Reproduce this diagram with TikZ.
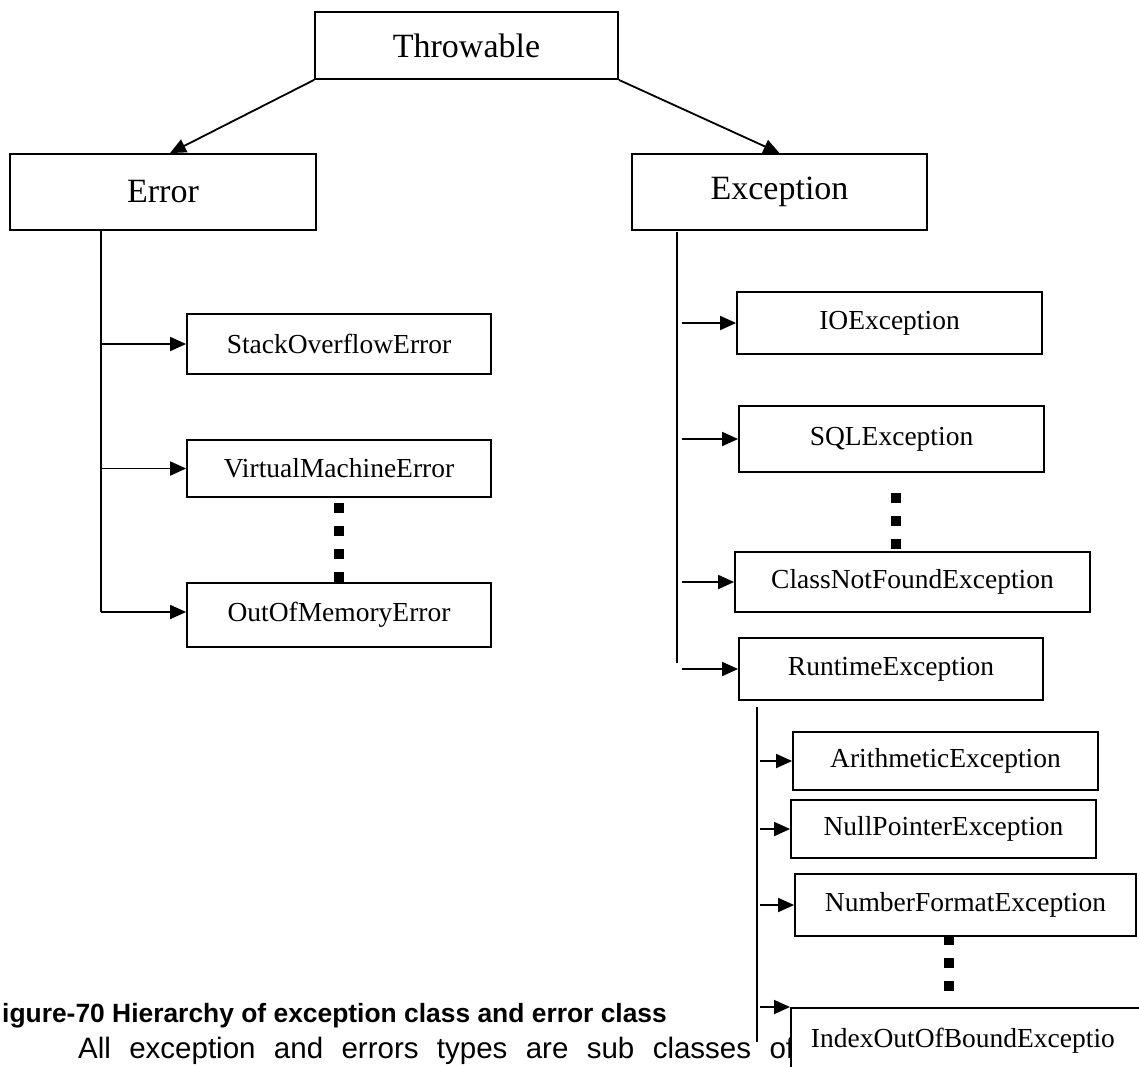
\documentclass[tikz,border=0pt]{standalone}
\usepackage{fontspec}
\setmainfont{Liberation Serif}
\newfontfamily\capfont{Liberation Sans}
\usetikzlibrary{arrows.meta}

\tikzset{
  bigbox/.style={draw, line width=1.8pt, inner sep=0pt, fill=white, font=\fontsize{34}{40}\selectfont},
  subbox/.style={draw, line width=1.8pt, inner sep=0pt, fill=white, font=\fontsize{27.5}{33}\selectfont},
  inherit/.style={line width=1.8pt, -{Triangle[length=16pt,width=14pt]}},
  trunk/.style={line width=1.6pt},
  moredots/.style={line width=10pt, dash pattern=on 10pt off 13pt},
}

\begin{document}
\begin{tikzpicture}[x=1pt,y=-1pt]
  \useasboundingbox (0,0) rectangle (1139,1066);

  %caption and text below the figure
  \node[anchor=base west, inner sep=0pt, font=\capfont\bfseries\fontsize{26.4}{30}\selectfont] (caption) at (2,1022) {igure-70 Hierarchy of exception class and error class};
  \node[anchor=base west, inner sep=0pt, font=\capfont\fontsize{29.5}{34}\selectfont] (bodytext) at (78,1058) {\makebox[716pt][s]{All exception and errors types are sub classes of}};

  %top level
  \node[bigbox, minimum width=303pt, minimum height=67pt] (throwable) at (466.5,45.5) {Throwable};
  \node[bigbox, minimum width=306pt, minimum height=76pt] (error) at (163,192) {Error};
  \node[bigbox, minimum width=295pt, minimum height=76pt] (exception) at (779.5,192) {Exception};
  \draw[inherit] (throwable.south west) -- ([xshift=7pt]error.north);
  \draw[inherit] (throwable.south east) -- (exception.north);

  %error branch
  \node[subbox, minimum width=304pt, minimum height=60pt] (stackoverflow) at (339,344) {StackOverflowError};
  \node[subbox, minimum width=304pt, minimum height=57pt] (virtualmachine) at (339,468.5) {VirtualMachineError};
  \node[subbox, minimum width=304pt, minimum height=64pt] (outofmemory) at (339,615) {OutOfMemoryError};
  \coordinate (errtop) at (101,230);
  \coordinate (errend) at (101,612);
  \draw[trunk] (errtop) -- (errend);
  \draw[inherit] (errtop |- stackoverflow.west) -- (stackoverflow.west);
  \draw[inherit] (errtop |- virtualmachine.west) -- (virtualmachine.west);
  \draw[inherit] (errend) -- (errend -| outofmemory.west);
  \draw[moredots] ([yshift=-5pt]virtualmachine.south) -- ++(0,80);

  %exception branch
  \node[subbox, minimum width=305pt, minimum height=62pt] (ioexc) at (889.5,323) {IOException};
  \node[subbox, minimum width=305pt, minimum height=66pt] (sqlexc) at (891.5,439) {SQLException};
  \node[subbox, minimum width=355pt, minimum height=60pt] (classnotfound) at (912.5,582) {ClassNotFoundException};
  \node[subbox, minimum width=304pt, minimum height=62pt] (runtime) at (891,669) {RuntimeException};
  \coordinate (exctop) at (677,232);
  \coordinate (excend) at (677,663);
  \coordinate (excstub) at (682,232);
  \draw[trunk] (exctop) -- (excend);
  \draw[inherit] (excstub |- ioexc.west) -- (ioexc.west);
  \draw[inherit] (excstub |- sqlexc.west) -- (sqlexc.west);
  \draw[inherit] (excstub |- classnotfound.west) -- (classnotfound.west);
  \draw[inherit] (excstub |- runtime.west) -- (runtime.west);
  \draw[moredots] ([xshift=4.5pt,yshift=-20pt]sqlexc.south) -- ++(0,57);

  %runtime branch
  \node[subbox, minimum width=305pt, minimum height=58pt] (arith) at (945.5,761) {ArithmeticException};
  \node[subbox, minimum width=305pt, minimum height=58pt] (nullpointer) at (943.5,829) {NullPointerException};
  \node[subbox, minimum width=341pt, minimum height=62pt] (numberformat) at (965.5,905) {NumberFormatException};
  \node[subbox, anchor=north west, inner xsep=20pt, text width=360pt, align=left, minimum height=66pt] (indexoob) at (790,1007) {IndexOutOfBoundExceptio};
  \coordinate (rtetop) at (757,707);
  \coordinate (rteend) at (757,1042);
  \coordinate (rtestub) at (760,707);
  \draw[trunk] (rtetop) -- (rteend);
  \draw[inherit] (rtestub |- arith.west) -- (arith.west);
  \draw[inherit] (rtestub |- nullpointer.west) -- (nullpointer.west);
  \draw[inherit] (rtestub |- numberformat.west) -- (numberformat.west);
  \draw[inherit] (rtestub |- indexoob.north west) -- (indexoob.north west);
  \draw[moredots] ([xshift=-16.5pt,yshift=2pt]numberformat.south) -- ++(0,57);
\end{tikzpicture}
\end{document}
